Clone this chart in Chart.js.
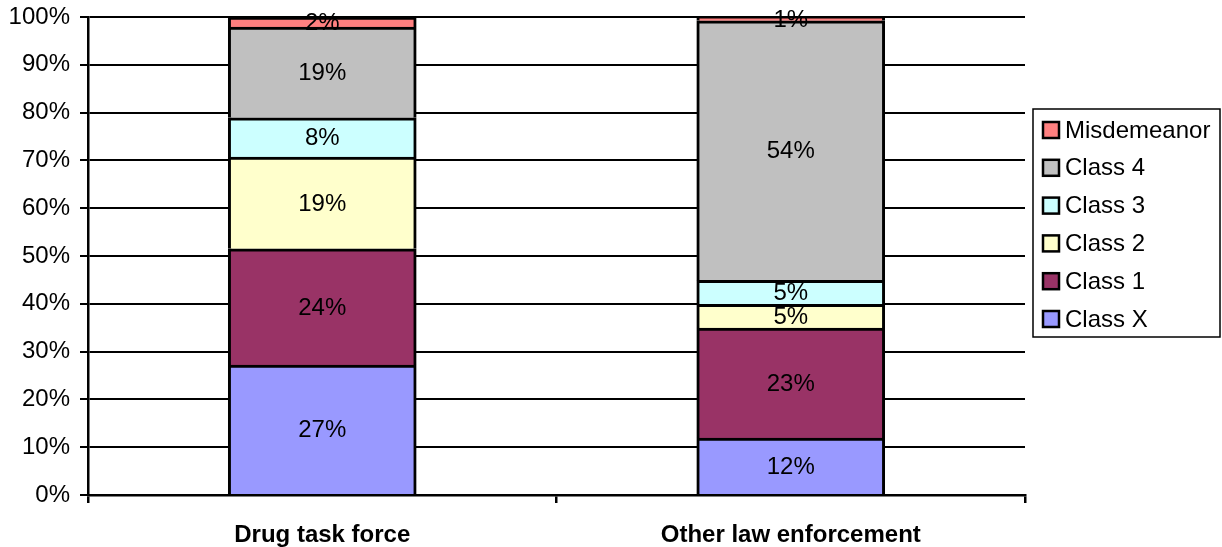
<!DOCTYPE html>
<html lang="en">
<head>
<meta charset="UTF-8">
<title>Offense class by agency</title>
<style>
    body {
        margin: 0;
        padding: 0;
        background: #fff;
        overflow: hidden;
    }
    .wrap {
        position: relative;
        width: 1222px;
        height: 547px;
    }
</style>
</head>
<body>
<div class="wrap"><canvas id="chart"></canvas></div>
<script src="https://cdn.jsdelivr.net/npm/chart.js@4/dist/chart.umd.min.js"></script>
<script>
// share of cases in each offense class, percent of agency total
const categories = ['Drug task force', 'Other law enforcement'];
const classX = [27.2, 11.9];
const class1 = [24.3, 23.0];
const class2 = [19.2, 5.0];
const class3 = [8.2, 5.0];
const class4 = [19.0, 54.3];
const misdemeanor = [2.1, 0.8];
const yTicks = [0, 10, 20, 30, 40, 50, 60, 70, 80, 90, 100];

const FONT = '"Liberation Sans", Arial, Helvetica, sans-serif';
Chart.defaults.font.family = FONT;
Chart.defaults.font.size = 24;
Chart.defaults.color = '#000';

// percent label in the middle of every segment
const segmentLabels = {
    id: 'segmentLabels',
    afterDatasetsDraw(chart) {
        const ctx = chart.ctx;
        ctx.save();
        ctx.font = '24px ' + FONT;
        ctx.fillStyle = '#000';
        ctx.textAlign = 'center';
        ctx.textBaseline = 'middle';
        chart.data.datasets.forEach((ds, i) => {
            chart.getDatasetMeta(i).data.forEach((bar, j) => {
                const v = ds.data[j];
                ctx.fillText(Math.round(v) + '%', bar.x, (bar.y + bar.base) / 2 + 1);
            });
        });
        ctx.restore();
    }
};

// boxed legend at the right, top entry = top of the stack
const boxLegend = {
    id: 'boxLegend',
    afterDraw(chart) {
        const ctx = chart.ctx;
        const left = chart.chartArea.right + 8;
        const top = 109;
        ctx.save();
        ctx.strokeStyle = '#000';
        ctx.lineWidth = 1.5;
        ctx.strokeRect(left, top, 187, 228);
        ctx.font = '24px ' + FONT;
        ctx.textBaseline = 'middle';
        const items = chart.data.datasets.slice().reverse();
        items.forEach((ds, i) => {
            const cy = top + 21 + i * 37.8;
            ctx.fillStyle = ds.backgroundColor;
            ctx.fillRect(left + 10, cy - 8, 16, 16);
            ctx.lineWidth = 2.5;
            ctx.strokeRect(left + 10, cy - 8, 16, 16);
            ctx.fillStyle = '#000';
            ctx.fillText(ds.label, left + 32, cy + 1);
        });
        ctx.restore();
    }
};

function series(label, data, color) {
    return {
        label: label,
        data: data,
        backgroundColor: color,
        borderColor: '#000',
        borderWidth: { top: 3, left: 3, right: 3, bottom: 0 },
        borderSkipped: false,
        barThickness: 188
    };
}

new Chart(document.getElementById('chart'), {
    type: 'bar',
    data: {
        labels: categories,
        datasets: [
            series('Class X', classX, '#9999FF'),
            series('Class 1', class1, '#993366'),
            series('Class 2', class2, '#FFFFCC'),
            series('Class 3', class3, '#CCFFFF'),
            series('Class 4', class4, '#C0C0C0'),
            series('Misdemeanor', misdemeanor, '#FF8080')
        ]
    },
    options: {
        responsive: true,
        maintainAspectRatio: false,
        animation: false,
        layout: { padding: { top: 17, right: 197, left: 0, bottom: 0 } },
        plugins: {
            legend: { display: false },
            tooltip: { enabled: false }
        },
        scales: {
            x: {
                stacked: true,
                afterFit: s => { s.height = 52; },
                border: { display: true, color: '#000', width: 2.5 },
                grid: {
                    offset: true,
                    drawOnChartArea: false,
                    drawTicks: true,
                    tickLength: 8,
                    color: '#000',
                    lineWidth: 2.5
                },
                ticks: {
                    padding: 18,
                    font: { size: 24, weight: 'bold' },
                    color: '#000'
                }
            },
            y: {
                stacked: true,
                min: 0,
                max: 100,
                afterFit: s => {
                    s.width = 88;
                    s.paddingTop = 0;
                    s.paddingBottom = 0;
                },
                afterBuildTicks: s => { s.ticks = yTicks.map(v => ({ value: v })); },
                border: { display: true, color: '#000', width: 2.5 },
                grid: {
                    color: '#000',
                    lineWidth: 2,
                    drawTicks: true,
                    tickLength: 8
                },
                ticks: {
                    padding: 10,
                    color: '#000',
                    callback: v => v + '%'
                }
            }
        }
    },
    plugins: [segmentLabels, boxLegend]
});
</script>
</body>
</html>
